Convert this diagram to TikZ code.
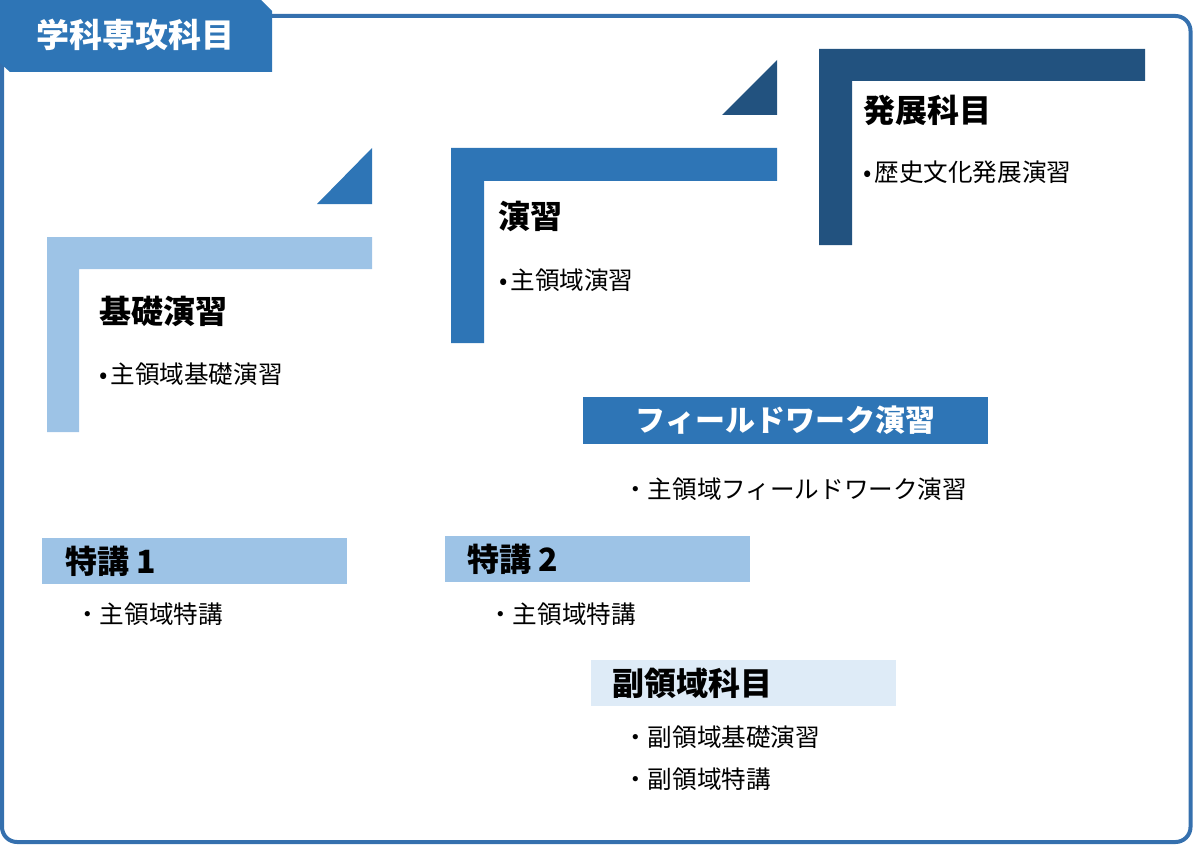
\documentclass[tikz,border=0pt]{standalone}
\usepackage{fontspec}
\setmainfont{Noto Sans CJK JP}
\definecolor{ltblue}{HTML}{9DC3E6}
\definecolor{mdblue}{HTML}{2E75B6}
\definecolor{dkblue}{HTML}{22527F}
\definecolor{paleblue}{HTML}{DEEBF7}
\definecolor{framecol}{HTML}{3570AE}

\begin{document}
\begin{tikzpicture}[x=1pt,y=-1pt,
  head/.style={inner sep=0pt,anchor=west,font=\bfseries\fontsize{32}{36}\selectfont},
  item/.style={inner sep=0pt,anchor=west,font=\fontsize{24.6}{28}\selectfont}]
\useasboundingbox (0,0) rectangle (1193,845);
% frame and tab
\draw[framecol,line width=4pt,rounded corners=15pt] (2,16) rectangle (1190.5,842);
\fill[mdblue] (0,0) -- (261,0) -- (272,11) -- (272,72) -- (10,72) -- (0,63) -- cycle;
\node[head,white,font=\bfseries\fontsize{33}{36}\selectfont] (tab) at (36,35) {学科専攻科目};
% steps
\fill[ltblue] (47,237) -- (372,237) -- (372,269) -- (79,269) -- (79,432) -- (47,432) -- cycle;
\fill[mdblue] (317,204) -- (372,148) -- (372,204) -- cycle;
\fill[mdblue] (451,148) -- (777,148) -- (777,181) -- (484,181) -- (484,343) -- (451,343) -- cycle;
\fill[dkblue] (722,115) -- (777,60) -- (777,115) -- cycle;
\fill[dkblue] (819,49) -- (1145,49) -- (1145,81) -- (852,81) -- (852,245) -- (819,245) -- cycle;
\node[head] (kiso) at (99,311) {基礎演習};
\node[item] (kisoitem) at (99,374) {•\hspace{3pt}主領域基礎演習};
\node[head] (ensyu) at (498,216) {演習};
\node[item] (ensyuitem) at (499,280) {•\hspace{3pt}主領域演習};
\node[head] (hatten) at (863,110) {発展科目};
\node[item] (hattenitem) at (863,172) {•\hspace{3pt}歴史文化発展演習};
% bars
\fill[mdblue] (583,397) rectangle (988,444);
\node[inner sep=0pt,white,font=\bfseries\fontsize{30}{34}\selectfont] (field) at (785.5,420.5) {フィールドワーク演習};
\node[item] (fielditem) at (623,489) {・主領域フィールドワーク演習};
\fill[ltblue] (42,538) rectangle (347,584);
\node[head] (toku1) at (65,561) {特講 1};
\node[item] (toku1item) at (75,614) {・主領域特講};
\fill[ltblue] (445,536) rectangle (750,582);
\node[head] (toku2) at (467,559) {特講 2};
\node[item] (toku2item) at (488,614) {・主領域特講};
\fill[paleblue] (591,660) rectangle (896,706);
\node[head] (fuku) at (612,683) {副領域科目};
\node[item] (fukuitema) at (623,737) {・副領域基礎演習};
\node[item] (fukuitemb) at (623,779) {・副領域特講};
\end{tikzpicture}
\end{document}
